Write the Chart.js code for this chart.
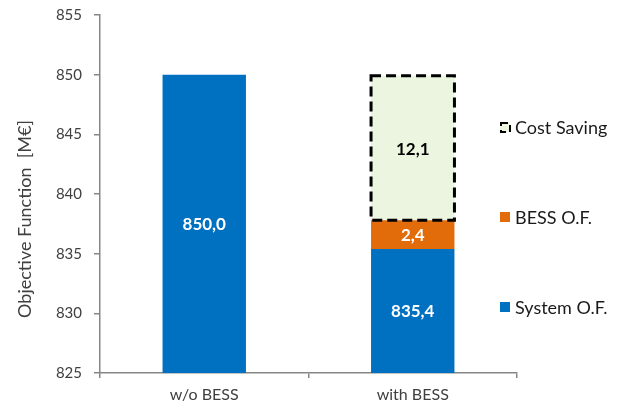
<!DOCTYPE html>
<html>
<head>
<meta charset="utf-8">
<script src="https://cdn.jsdelivr.net/npm/chart.js@4"></script>
<style>
  html, body { margin: 0; padding: 0; background: #fff; }
  #wrap { width: 628px; height: 405px; position: relative; }
</style>
</head>
<body>
<div id="wrap"><canvas id="myChart"></canvas></div>
<script>
// dati
const categories = ['w/o BESS', 'with BESS'];
const systemOF = [850.0, 835.4];
const bessOF = [0, 2.4];
const costSaving = [0, 12.1];
const yTicks = [825, 830, 835, 840, 845, 850, 855];

const FONT = 'Lato, "Open Sans", sans-serif';
const BLUE = '#0070C0';
const ORANGE = '#E36C0A';
const GREEN = '#EBF5DF';

function fmt(v) {
    return v.toFixed(1).replace('.', ',');
}

// etichette dei valori al centro della parte visibile di ogni segmento
const valueLabels = {
    id: 'valueLabels',
    afterDatasetsDraw(chart) {
        const ctx = chart.ctx;
        const area = chart.chartArea;
        ctx.save();
        ctx.font = 'bold 17px ' + FONT;
        ctx.textAlign = 'center';
        ctx.textBaseline = 'middle';
        chart.data.datasets.forEach(function (ds, i) {
            const meta = chart.getDatasetMeta(i);
            meta.data.forEach(function (el, j) {
                const v = ds.data[j];
                if (!v) return;
                const top = Math.max(Math.min(el.y, el.base), area.top);
                const bottom = Math.min(Math.max(el.y, el.base), area.bottom);
                ctx.fillStyle = ds.labelColor;
                ctx.fillText(fmt(v), el.x, (top + bottom) / 2 + 1);
            });
        });
        ctx.restore();
    }
};

// bordo tratteggiato per il risparmio
const dashedBorder = {
    id: 'dashedBorder',
    afterDatasetsDraw(chart) {
        const ctx = chart.ctx;
        const meta = chart.getDatasetMeta(2);
        ctx.save();
        ctx.strokeStyle = '#000';
        ctx.lineWidth = 3;
        ctx.setLineDash([10, 5]);
        meta.data.forEach(function (el, j) {
            if (!costSaving[j]) return;
            const half = el.width / 2;
            ctx.strokeRect(el.x - half, el.y, el.width, el.base - el.y);
        });
        ctx.restore();
    }
};

// legenda a destra e titolo asse y
const sideStuff = {
    id: 'sideStuff',
    afterDraw(chart) {
        const ctx = chart.ctx;
        ctx.save();
        const items = [
            { text: 'Cost Saving', y: 127, type: 'dash' },
            { text: 'BESS O.F.', y: 217, color: ORANGE },
            { text: 'System O.F.', y: 307, color: BLUE }
        ];
        ctx.font = '18px ' + FONT;
        ctx.textBaseline = 'middle';
        items.forEach(function (it) {
            if (it.type === 'dash') {
                ctx.fillStyle = GREEN;
                ctx.fillRect(500, it.y - 5, 10, 10);
                ctx.strokeStyle = '#000';
                ctx.lineWidth = 2;
                ctx.setLineDash([7, 4]);
                ctx.strokeRect(501, it.y - 4, 9, 9);
                ctx.setLineDash([]);
            } else {
                ctx.fillStyle = it.color;
                ctx.fillRect(500, it.y - 5, 10, 10);
            }
            ctx.fillStyle = '#1a1a1a';
            ctx.textAlign = 'left';
            ctx.fillText(it.text, 515, it.y + 1);
        });
        ctx.translate(25, 219);
        ctx.rotate(-Math.PI / 2);
        ctx.textAlign = 'center';
        ctx.fillStyle = '#404040';
        ctx.font = '18px ' + FONT;
        ctx.fillText('Objective Function  [M€]', 0, 0);
        ctx.restore();
    }
};

document.addEventListener('DOMContentLoaded', function () {
    const ctx = document.getElementById('myChart').getContext('2d');
    new Chart(ctx, {
        type: 'bar',
        data: {
            labels: categories,
            datasets: [
                { label: 'System O.F.', data: systemOF, backgroundColor: BLUE, labelColor: '#fff' },
                { label: 'BESS O.F.', data: bessOF, backgroundColor: ORANGE, labelColor: '#fff' },
                { label: 'Cost Saving', data: costSaving, backgroundColor: GREEN, labelColor: '#000' }
            ]
        },
        options: {
            responsive: true,
            maintainAspectRatio: false,
            animation: false,
            layout: { padding: { top: 15, right: 111, left: 0, bottom: 0 } },
            datasets: {
                bar: { barPercentage: 0.4, categoryPercentage: 1, borderWidth: 0 }
            },
            plugins: {
                legend: { display: false },
                tooltip: { enabled: false }
            },
            scales: {
                x: {
                    stacked: true,
                    grid: {
                        display: true,
                        drawOnChartArea: false,
                        offset: true,
                        color: '#868686',
                        tickLength: 5,
                        lineWidth: 1.5
                    },
                    border: { display: true, color: '#868686', width: 1.5 },
                    ticks: {
                        color: '#404040',
                        font: { family: FONT, size: 16 },
                        padding: 7
                    },
                    afterFit(scale) { scale.height = 32; }
                },
                y: {
                    stacked: true,
                    min: 825,
                    max: 855,
                    afterBuildTicks(scale) {
                        scale.ticks = yTicks.map(function (v) { return { value: v }; });
                    },
                    grid: {
                        display: true,
                        drawOnChartArea: false,
                        color: '#868686',
                        tickLength: 6,
                        lineWidth: 1.5
                    },
                    border: { display: true, color: '#868686', width: 1.5 },
                    ticks: {
                        color: '#404040',
                        font: { family: FONT, size: 15 },
                        padding: 12
                    },
                    afterFit(scale) {
                        scale.width = 100;
                        scale.paddingTop = 0;
                        scale.paddingBottom = 0;
                    }
                }
            }
        },
        plugins: [valueLabels, dashedBorder, sideStuff]
    });
});
</script>
</body>
</html>
